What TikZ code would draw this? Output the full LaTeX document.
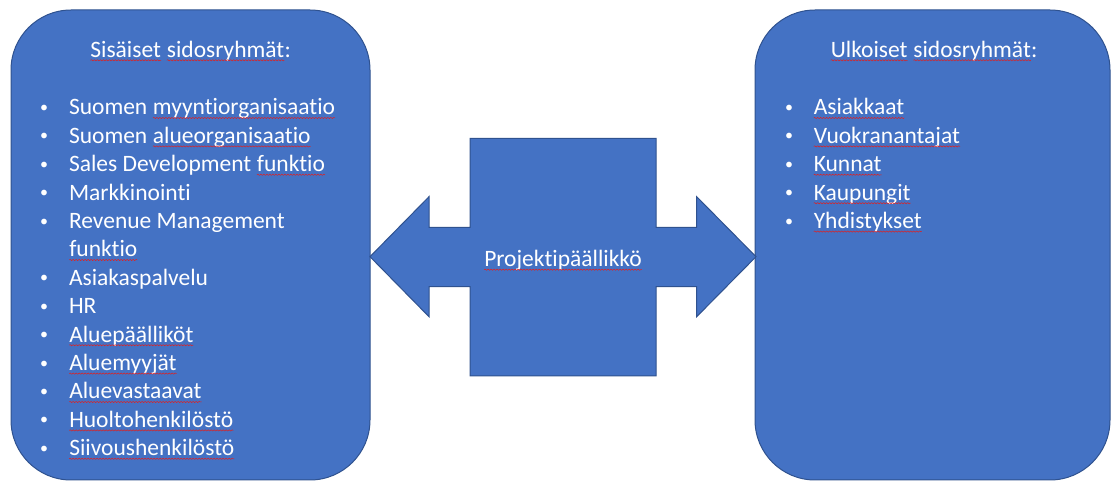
\documentclass[tikz,border=0pt]{standalone}
\usepackage{fontspec}
\setmainfont{Carlito}[Ligatures=NoCommon]
\usetikzlibrary{decorations.pathmorphing}
\definecolor{boxfill}{HTML}{4472C4}
\definecolor{boxline}{HTML}{2F528F}
\definecolor{spell}{HTML}{E02020}
\tikzset{
  grp/.style={draw=boxline, fill=boxfill, line width=1pt, rounded corners=60pt},
  txt/.style={text=white, inner sep=0pt, outer sep=0pt, font=\fontsize{23.5}{28.4}\selectfont},
  pm/.style={draw=boxline, fill=boxfill, line width=1pt, line join=miter},
  wave/.style={draw=spell, line width=0.5pt, decorate, decoration={snake, amplitude=0.6pt, segment length=3pt}}
}
\newcommand\sq[1]{\tikz[baseline=(w.base)]{\node[inner sep=0pt, outer sep=0pt, text=white] (w) {#1};
  \draw[wave] ([yshift=-3pt]w.base west) -- ([yshift=-3pt]w.base east);}}
\newcommand\bul{{\fontsize{16}{16}\selectfont\raisebox{2.5pt}{\textbullet}}}
\begin{document}
\begin{tikzpicture}[x=1pt,y=1pt]
\useasboundingbox (0,0) rectangle (1112,482);
% group boxes
\draw[grp] (11,2) rectangle (370,472);
\draw[grp] (755,2) rectangle (1110,472);
% double arrow with box
\draw[pm] (370,225.3) -- (429,285.3) -- (429,254.7) -- (470,254.7) -- (470,343.7)
  -- (656,343.7) -- (656,254.7) -- (696.7,254.7) -- (696.7,285.3) -- (756,225.3)
  -- (696.7,165.3) -- (696.7,195.3) -- (656,195.3) -- (656,106) -- (470,106)
  -- (470,195.3) -- (429,195.3) -- (429,165.3) -- cycle;
\node[txt, anchor=base] (pm) at (563,215.3) {\sq{Projektipäällikkö}};
% headers
\node[txt, anchor=base] (inth) at (190.5,424.7) {\sq{Sisäiset} \sq{sidosryhmät}:};
\node[txt, anchor=base] (exth) at (934,424.7) {\sq{Ulkoiset} \sq{sidosryhmät}:};
% lists
\node[txt, anchor=base west] (intl) at (40,367) {%
\begin{tabular}[t]{@{}p{29pt}@{}l@{}}
\bul & Suomen \sq{myyntiorganisaatio}\\
\bul & Suomen \sq{alueorganisaatio}\\
\bul & Sales Development \sq{funktio}\\
\bul & Markkinointi\\
\bul & Revenue Management\\
     & \sq{funktio}\\
\bul & Asiakaspalvelu\\
\bul & HR\\
\bul & \sq{Aluepäälliköt}\\
\bul & \sq{Aluemyyjät}\\
\bul & \sq{Aluevastaavat}\\
\bul & \sq{Huoltohenkilöstö}\\
\bul & \sq{Siivoushenkilöstö}
\end{tabular}};
\node[txt, anchor=base west] (extl) at (785,367) {%
\begin{tabular}[t]{@{}p{28.5pt}@{}l@{}}
\bul & \sq{Asiakkaat}\\
\bul & \sq{Vuokranantajat}\\
\bul & \sq{Kunnat}\\
\bul & \sq{Kaupungit}\\
\bul & \sq{Yhdistykset}
\end{tabular}};
\end{tikzpicture}
\end{document}
